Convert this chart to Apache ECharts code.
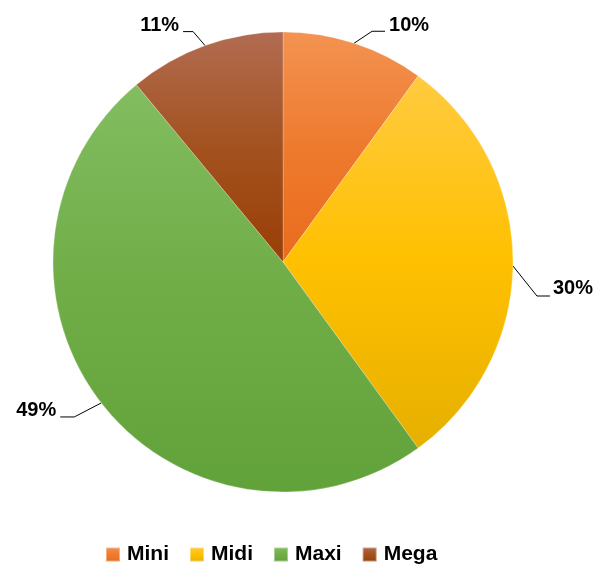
<!DOCTYPE html>
<html>
<head>
<meta charset="utf-8">
<script src="https://cdn.jsdelivr.net/npm/echarts@6/dist/echarts.min.js"></script>
<style>
html,body{margin:0;padding:0;background:#fff;}
#chart{width:599px;height:564px;}
</style>
</head>
<body>
<div id="chart"></div>
<script>
// ---- data ----
const categories = ['Mini', 'Midi', 'Maxi', 'Mega'];
const values = [10, 30, 49, 11];

// ---- styles ----
const gradientStops = [
  ['#F39352', '#EE7A2E', '#EA6C1C'],
  ['#FFCB40', '#FFC000', '#E6B000'],
  ['#82BD60', '#70AD47', '#62A23A'],
  ['#B26C52', '#A3521F', '#9A3E06']
];
const CX = 283, CY = 262, R = 230;
// leader line geometry: anchor angle override (deg from top, clockwise), elbow offset, end offset, label pos
const guides = [
  {dx1: 18, dy1: -12, dx2: 13, lx: 4, ly: -6, align: 'left'},
  {angle: 91, dx1: 24, dy1: 30, dx2: 13, lx: 3, ly: -8, align: 'left'},
  {dx1: -27, dy1: 14, dx2: -14, lx: -4, ly: -6, align: 'right'},
  {dx1: -12, dy1: -14, dx2: -10, lx: -4, ly: -6, align: 'right'}
];

const total = values.reduce((a, b) => a + b, 0);
const midAngles = [];
(function () {
  let acc = 0;
  values.forEach(v => { midAngles.push((acc + v / 2) / total * 360); acc += v; });
})();

const chart = echarts.init(document.getElementById('chart'), null, {renderer: 'canvas'});
chart.setOption({
  animation: false,
  backgroundColor: '#ffffff',
  legend: {
    top: 539,
    left: 100,
    itemWidth: 14,
    itemHeight: 14,
    itemGap: 20,
    icon: 'rect',
    data: categories,
    textStyle: {
      fontFamily: 'Liberation Sans, Arial, sans-serif',
      fontWeight: 'bold',
      fontSize: 21,
      color: '#000',
      padding: [0, 0, 0, 2]
    }
  },
  series: [{
    type: 'pie',
    center: [CX, CY],
    radius: R,
    startAngle: 90,
    clockwise: true,
    avoidLabelOverlap: false,
    percentPrecision: 0,
    itemStyle: {borderColor: 'rgba(255,255,255,0.4)', borderWidth: 0.6},
    label: {
      show: true,
      position: 'outside',
      formatter: '{d}%',
      color: '#000',
      fontFamily: 'Liberation Sans, Arial, sans-serif',
      fontWeight: 'bold',
      fontSize: 20
    },
    labelLine: {show: true, lineStyle: {color: '#000', width: 1}},
    labelLayout: function (p) {
      const g = guides[p.dataIndex];
      const ang = (g.angle != null ? g.angle : midAngles[p.dataIndex]) * Math.PI / 180;
      const ex = CX + R * Math.sin(ang), ey = CY - R * Math.cos(ang);
      const bx = ex + g.dx1, by = ey + g.dy1;
      const fx = bx + g.dx2, fy = by;
      return {
        x: fx + g.lx,
        y: fy + g.ly,
        align: g.align,
        verticalAlign: 'middle',
        labelLinePoints: [[ex, ey], [bx, by], [fx, fy]]
      };
    },
    emphasis: {disabled: true},
    data: categories.map((name, i) => ({
      name: name,
      value: values[i],
      itemStyle: {
        color: new echarts.graphic.LinearGradient(0, 0, 0, 1, [
          {offset: 0, color: gradientStops[i][0]},
          {offset: 0.5, color: gradientStops[i][1]},
          {offset: 1, color: gradientStops[i][2]}
        ])
      }
    }))
  }]
});
</script>
</body>
</html>
